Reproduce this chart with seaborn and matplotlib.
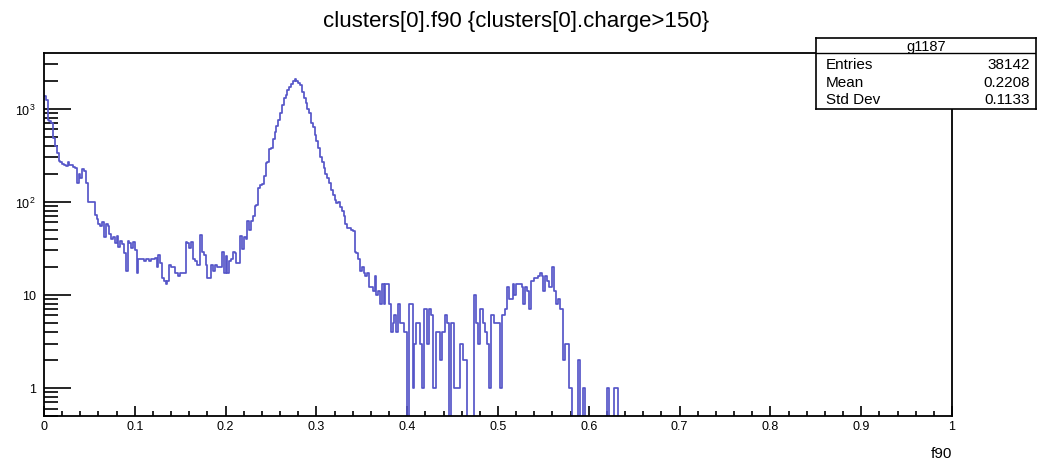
import numpy as np
import pandas as pd
import matplotlib
matplotlib.use("Agg")
import matplotlib.pyplot as plt
import seaborn as sns
from matplotlib.ticker import FixedLocator, FixedFormatter, NullFormatter

sns.set_theme(style="white")
plt.rcParams["font.family"] = ["Liberation Sans", "DejaVu Sans"]
plt.rcParams["mathtext.fontset"] = "custom"
plt.rcParams["mathtext.rm"] = "Liberation Sans"
plt.rcParams["mathtext.it"] = "Liberation Sans:italic"
plt.rcParams["mathtext.bf"] = "Liberation Sans:bold"

# ---- histogram content: f90 of the first cluster, 500 bins on [0, 1] ----
N_BINS = 500
X_RANGE = (0.0, 1.0)
counts = [
    # 0.000 - 0.100
    1350, 1250, 760, 740, 700, 480, 400, 330, 275, 265,
    255, 245, 240, 265, 250, 245, 235, 230, 160, 200,
    180, 225, 215, 160, 100, 100, 100, 100, 72, 65,
    58, 55, 60, 42, 58, 55, 45, 40, 42, 36,
    43, 33, 38, 35, 28, 18, 38, 36, 32, 37,
    # 0.100 - 0.200
    30, 17, 24, 24, 24, 23, 24, 24, 23, 24,
    24, 25, 20, 27, 22, 15, 14, 13, 14, 21,
    20, 20, 17, 17, 16, 17, 17, 17, 37, 36,
    32, 37, 24, 23, 21, 21, 44, 29, 27, 21,
    15, 15, 21, 18, 21, 20, 20, 20, 29, 17,
    # 0.200 - 0.300
    26, 17, 23, 24, 29, 28, 22, 22, 43, 31,
    42, 40, 62, 50, 62, 70, 90, 92, 140, 150,
    155, 190, 260, 270, 370, 380, 470, 560, 650, 760,
    900, 1100, 1300, 1400, 1600, 1700, 1850, 2000, 2100, 2000,
    1900, 1800, 1500, 1300, 1150, 1000, 900, 700, 640, 520,
    # 0.300 - 0.400
    450, 380, 300, 270, 230, 200, 180, 160, 135, 118,
    105, 98, 100, 88, 80, 70, 58, 52, 52, 50,
    48, 29, 28, 24, 18, 20, 17, 16, 17, 12,
    12, 11, 16, 10, 11, 8, 13, 8, 13, 13,
    8, 4, 5, 6, 4, 8, 5, 5, 4, 4,
    # 0.400 - 0.500
    0, 8, 8, 1, 3, 5, 5, 3, 1, 7,
    7, 3, 7, 6, 1, 1, 4, 4, 2, 4,
    4, 6, 5, 0, 5, 5, 1, 1, 1, 3,
    3, 2, 2, 0, 0, 0, 0, 10, 5, 3,
    7, 7, 5, 4, 3, 1, 6, 6, 5, 5,
    # 0.500 - 0.600
    5, 1, 6, 6, 7, 12, 9, 9, 13, 10,
    13, 13, 13, 12, 8, 12, 11, 7, 14, 14,
    15, 15, 16, 17, 16, 11, 16, 14, 12, 12,
    20, 11, 8, 9, 7, 7, 2, 3, 3, 1,
    1, 0, 0, 0, 2, 0, 0, 1, 0, 0,
    # 0.600 - 0.700
    0, 0, 0, 0, 0, 0, 0, 0, 0, 0,
    1, 0, 0, 0, 1, 1, 0, 0, 0, 0,
    0, 0, 0, 0, 0, 0, 0, 0, 0, 0,
    0, 0, 0, 0, 0, 0, 0, 0, 0, 0,
    0, 0, 0, 0, 0, 0, 0, 0, 0, 0,
    # 0.700 - 0.800
    0, 0, 0, 0, 0, 0, 0, 0, 0, 0,
    0, 0, 0, 0, 0, 0, 0, 0, 0, 0,
    0, 0, 0, 0, 0, 0, 0, 0, 0, 0,
    0, 0, 0, 0, 0, 0, 0, 0, 0, 0,
    0, 0, 0, 0, 0, 0, 0, 0, 0, 0,
    # 0.800 - 0.900
    0, 0, 0, 0, 0, 0, 0, 0, 0, 0,
    0, 0, 0, 0, 0, 0, 0, 0, 0, 0,
    0, 0, 0, 0, 0, 0, 0, 0, 0, 0,
    0, 0, 0, 0, 0, 0, 0, 0, 0, 0,
    0, 0, 0, 0, 0, 0, 0, 0, 0, 0,
    # 0.900 - 1.000
    0, 0, 0, 0, 0, 0, 0, 0, 0, 0,
    0, 0, 0, 0, 0, 0, 0, 0, 0, 0,
    0, 0, 0, 0, 0, 0, 0, 0, 0, 0,
    0, 0, 0, 0, 0, 0, 0, 0, 0, 0,
    0, 0, 0, 0, 0, 0, 0, 0, 0, 0,
]

TITLE = "clusters[0].f90 {clusters[0].charge>150}"
X_LABEL = "f90"
X_TICKS = [0.0, 0.1, 0.2, 0.3, 0.4, 0.5, 0.6, 0.7, 0.8, 0.9, 1.0]
X_TICK_LABELS = ["0", "0.1", "0.2", "0.3", "0.4", "0.5", "0.6", "0.7", "0.8", "0.9", "1"]
Y_TICKS = [1, 10, 100, 1000]
Y_TICK_LABELS = ["1", "10", r"$\mathregular{10^{2}}$", r"$\mathregular{10^{3}}$"]
Y_LIMITS = (0.5, 3950)

STATS_NAME = "g1187"
STATS_ROWS = [("Entries", "38142"), ("Mean", "0.2208"), ("Std Dev", "0.1133")]

LINE_COLOR = "#5656c8"

# ---- table for seaborn: one row per bin centre, weighted by its content ----
bin_width = (X_RANGE[1] - X_RANGE[0]) / N_BINS
centers = X_RANGE[0] + bin_width * (np.arange(N_BINS) + 0.5)
hist_df = pd.DataFrame({"f90": centers, "entries": counts})

W, H = 1037, 464
fig = plt.figure(figsize=(W / 100, H / 100), dpi=100)
fig.patch.set_facecolor("white")
ax = fig.add_axes([44 / W, (H - 417) / H, 908 / W, 363 / H])
ax.set_facecolor("white")

sns.histplot(data=hist_df, x="f90", weights="entries", bins=N_BINS,
             binrange=X_RANGE, element="step", fill=False, color=LINE_COLOR,
             linewidth=1.25, ax=ax)
ax.set_yscale("log")
ax.set_xlim(*X_RANGE)
ax.set_ylim(*Y_LIMITS)
ax.grid(False)

# axes frame
for sp in ax.spines.values():
    sp.set_color("black")
    sp.set_linewidth(1.3)

# x axis ticks (inside, ROOT style)
ax.xaxis.set_major_locator(FixedLocator(X_TICKS))
ax.xaxis.set_major_formatter(FixedFormatter(X_TICK_LABELS))
ax.xaxis.set_minor_locator(FixedLocator(np.round(np.arange(0, 1.0001, 0.02), 3)))
ax.xaxis.set_minor_formatter(NullFormatter())
ax.tick_params(axis="x", which="major", direction="in", length=7.2, width=1.2,
               colors="black", labelsize=9, pad=3, bottom=True, top=False)
ax.tick_params(axis="x", which="minor", direction="in", length=3.6, width=1.2,
               colors="black", bottom=True, top=False)

# y axis ticks
y_minor = [v * d for d in (0.1, 1, 10, 100) for v in range(2, 10)]
y_minor = [v for v in y_minor if Y_LIMITS[0] <= v <= Y_LIMITS[1]] + [2000, 3000]
ax.yaxis.set_major_locator(FixedLocator(Y_TICKS))
ax.yaxis.set_major_formatter(FixedFormatter(Y_TICK_LABELS))
ax.yaxis.set_minor_locator(FixedLocator(y_minor))
ax.yaxis.set_minor_formatter(NullFormatter())
ax.tick_params(axis="y", which="major", direction="in", length=19.5, width=1.2,
               colors="black", labelsize=9, pad=6, left=True, right=False)
ax.tick_params(axis="y", which="minor", direction="in", length=10, width=1.2,
               colors="black", left=True, right=False)

ax.set_ylabel("")
ax.set_xlabel(X_LABEL, loc="right", fontsize=11, labelpad=10, color="black")

# title
fig.text(516.5 / W, 1 - 26.5 / H, TITLE, ha="center", va="baseline",
         fontsize=16, color="black")

# statistics box
bx0, by0, bx1, by1 = 816, 39, 1036, 109.5
sax = fig.add_axes([bx0 / W, 1 - by1 / H, (bx1 - bx0) / W, (by1 - by0) / H])
sax.set_facecolor("white")
sax.set_xticks([])
sax.set_yticks([])
sax.set_xlim(0, 1)
sax.set_ylim(0, 1)
for sp in sax.spines.values():
    sp.set_color("black")
    sp.set_linewidth(1.2)
bh = by1 - by0
bw = bx1 - bx0
sax.axhline(1 - (54.3 - by0) / bh, color="black", lw=1.0)
sax.text(0.5, 1 - (46.7 - by0) / bh, STATS_NAME, ha="center", va="center",
         fontsize=10.5, color="black")
for (name, val), yc in zip(STATS_ROWS, (65.0, 83.0, 100.0)):
    yy = 1 - (yc - by0) / bh
    sax.text((826 - bx0) / bw, yy, name, ha="left", va="center", fontsize=11, color="black")
    sax.text((1030 - bx0) / bw, yy, val, ha="right", va="center", fontsize=11, color="black")

fig.savefig("out.png", dpi=100)
